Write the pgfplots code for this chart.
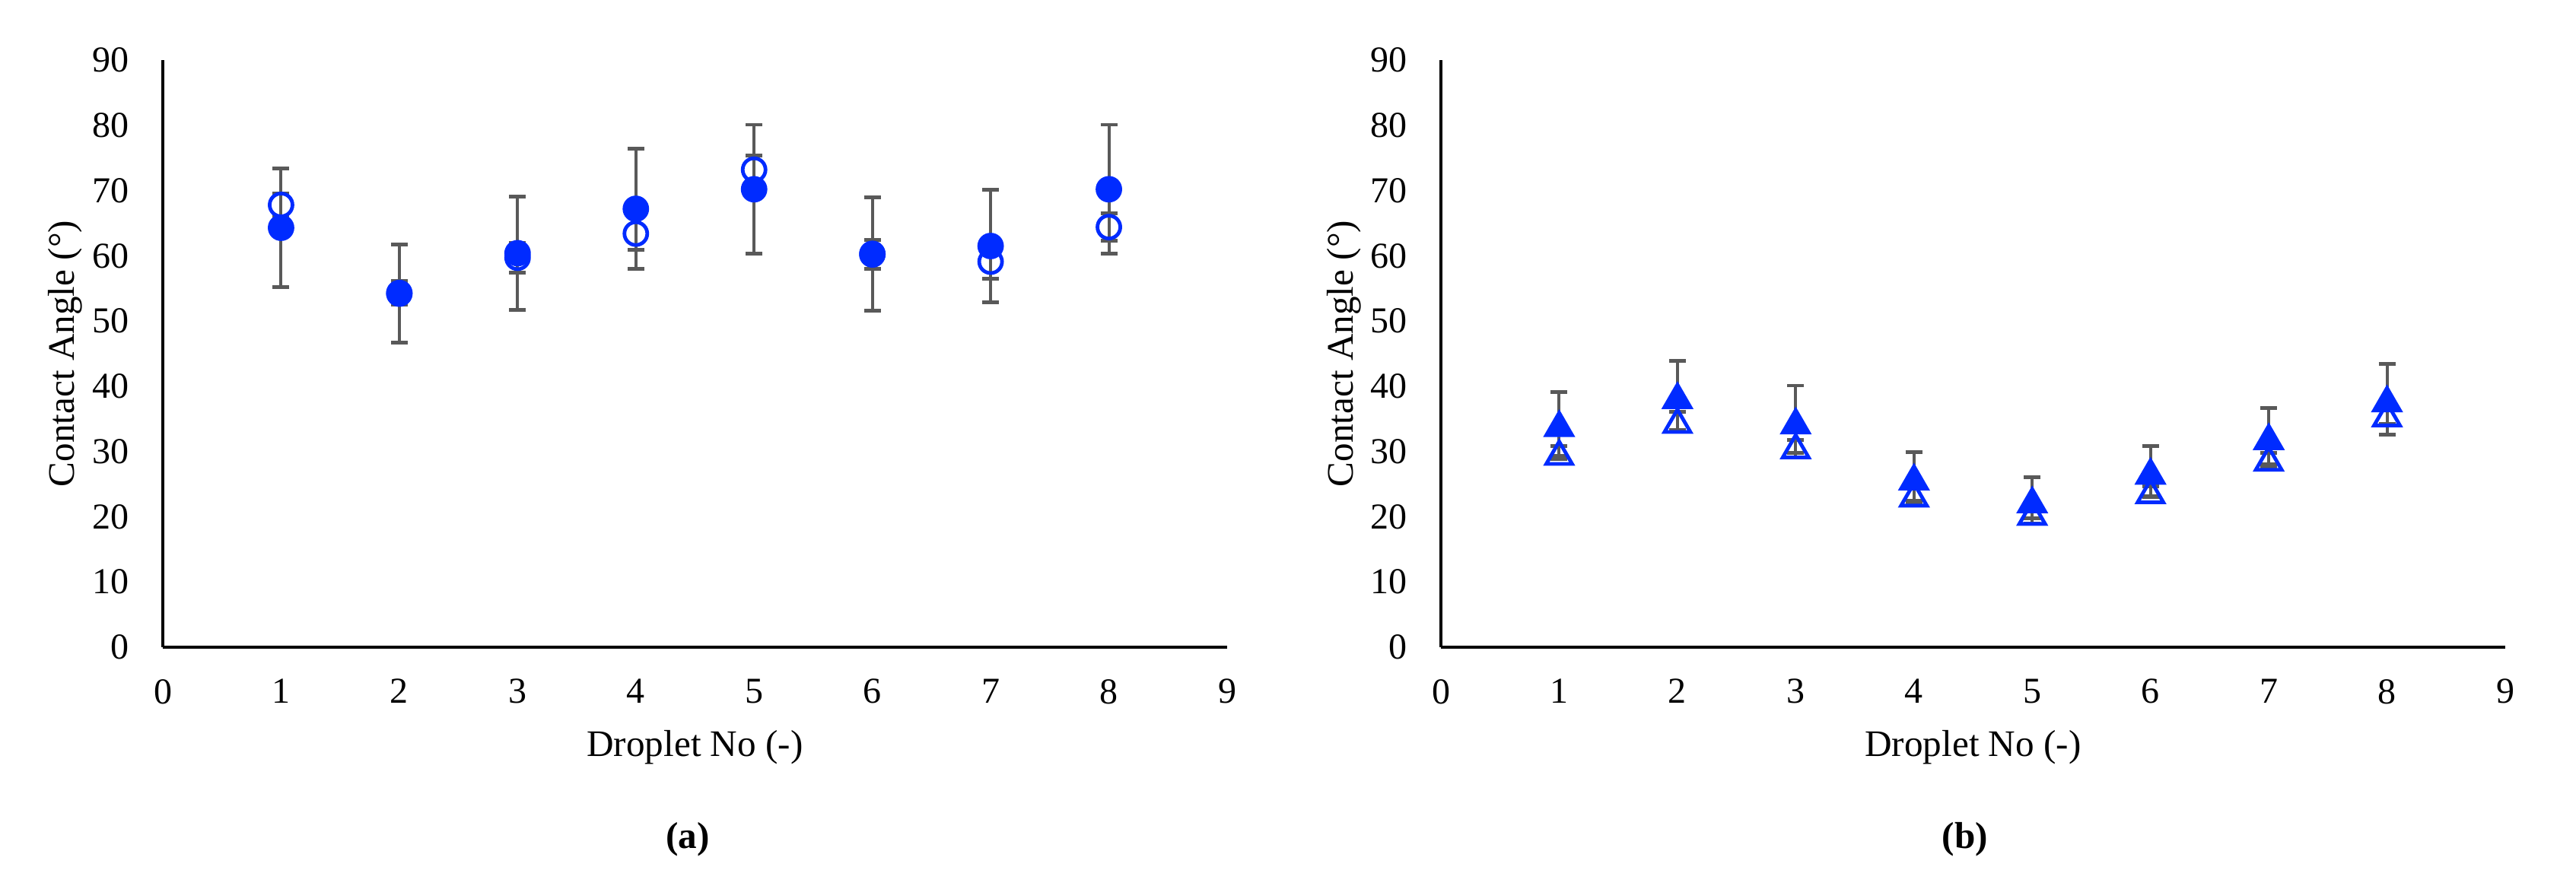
\documentclass[border=0pt]{standalone}
\usepackage{fontspec}
\setmainfont{Liberation Serif}
\usepackage{pgfplots}
\usepackage{pgfplotstable}
\pgfplotsset{compat=1.18}
\definecolor{mblue}{RGB}{0,43,255}
\definecolor{egray}{RGB}{89,89,89}

% x  open  openerr  filled  filerr
\pgfplotstableread{
x  o    oe   f    fe
1  67.8 1.8  64.3 9.1
2  54.3 1.8  54.2 7.5
3  59.7 2.3  60.4 8.7
4  63.4 2.5  67.2 9.2
5  73.2 2.2  70.2 9.9
6  60.2 2.2  60.3 8.7
7  59.1 2.6  61.5 8.6
8  64.4 2.1  70.2 9.9
}\dataA
\pgfplotstableread{
x  o    oe   f    fe
1  29.8 1.0  34.2 4.9
2  34.7 1.4  38.5 5.4
3  30.8 1.0  34.6 5.5
4  23.4 0.9  26.0 3.9
5  20.6 0.8  22.5 3.6
6  23.9 0.8  26.9 3.9
7  28.9 0.9  32.2 4.5
8  35.7 1.5  38.0 5.4
}\dataB

\pgfplotsset{
 myaxis/.style={
  scale only axis, width=349.75pt, height=193pt,
  xmin=0, xmax=9, ymin=0, ymax=90,
  xtick={0,1,...,9}, ytick={0,10,...,90},
  axis x line*=bottom, axis y line*=left,
  axis line style={-, line width=1.1pt, black},
  major tick length=0pt,
  tick label style={font=\fontsize{12}{14}\selectfont},
  /pgf/number format/assume math mode=true,
  xticklabel style={yshift=-7pt},
  yticklabel style={xshift=-7.5pt},
  xlabel={Droplet No (-)}, ylabel={Contact Angle (°)},
  every axis x label/.style={at={(axis description cs:0.5,0)}, anchor=base, yshift=-36pt, font=\fontsize{12.3}{14}\selectfont},
  every axis y label/.style={at={(axis description cs:0,0.5)}, rotate=90, anchor=base, yshift=29pt, font=\fontsize{12.3}{14}\selectfont},
  clip=false,
 },
 ebars/.style={draw=none, mark=none,
   error bars/.cd, y dir=both, y explicit,
   error bar style={draw=egray, line width=1pt},
   error mark options={draw=egray, rotate=90, mark size=2.75pt, line width=1.2pt}},
}

\begin{document}
\begin{tikzpicture}
\path[use as bounding box] (0,0) rectangle (846.5pt,291.25pt);

\begin{axis}[myaxis, at={(53.5pt,78.5pt)}, anchor=south west]
\addplot[ebars] table[x=x, y=o, y error=oe] {\dataA};
\addplot[ebars] table[x=x, y=f, y error=fe] {\dataA};
\addplot[only marks, mark=o, mark size=3.75pt, mark options={draw=mblue, line width=1.2pt}] table[x=x, y=o] {\dataA};
\addplot[only marks, mark=*, mark size=3.75pt, mark options={draw=mblue, fill=mblue, line width=1.2pt}] table[x=x, y=f] {\dataA};
\end{axis}

\begin{axis}[myaxis, at={(473.5pt,78.5pt)}, anchor=south west]
\addplot[ebars] table[x=x, y=o, y error=oe] {\dataB};
\addplot[ebars] table[x=x, y=f, y error=fe] {\dataB};
\addplot[only marks, mark=triangle, mark size=4.9pt, mark options={draw=mblue, line width=1.2pt, yshift=-1.2pt}] table[x=x, y=o] {\dataB};
\addplot[only marks, mark=triangle*, mark size=4.9pt, mark options={draw=mblue, fill=mblue, line width=1.2pt, yshift=-1.2pt}] table[x=x, y=f] {\dataB};
\end{axis}

\node[font=\bfseries\fontsize{12.3}{14}\selectfont] at (226pt,15.25pt) {(a)};
\node[font=\bfseries\fontsize{12.3}{14}\selectfont] at (645.75pt,15.25pt) {(b)};
\end{tikzpicture}
\end{document}
